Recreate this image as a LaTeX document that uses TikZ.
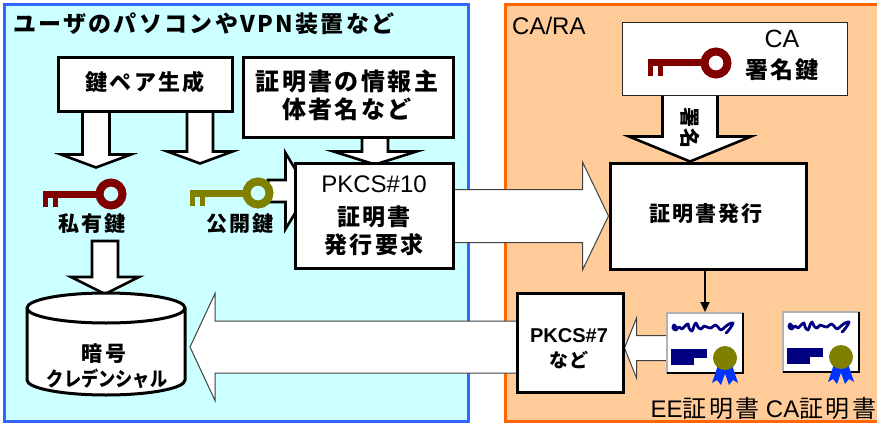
\documentclass[tikz,border=0pt]{standalone}
\usepackage{fontspec}
\setmainfont{Liberation Sans}
\newfontfamily\jp[LetterSpace=10]{Noto Sans CJK JP}
\newfontfamily\jpnarrow{Noto Sans CJK JP}
\usetikzlibrary{calc,arrows.meta}
\pgfdeclarelayer{bg}
\pgfdeclarelayer{behind}
\pgfsetlayers{bg,behind,main}

\definecolor{panelcyan}{HTML}{CCFFFF}
\definecolor{panelblue}{HTML}{3366FF}
\definecolor{panelpeach}{HTML}{FFCC99}
\definecolor{panelorange}{HTML}{FF6600}
\definecolor{keyred}{HTML}{800000}
\definecolor{keyolive}{HTML}{808000}
\definecolor{certnavy}{HTML}{000080}
\definecolor{ribbonblue}{HTML}{0033FF}

\newcommand\sz[1]{\fontsize{#1pt}{#1pt}\selectfont}

% block arrow: [style]{start}{tip}{shaft half width}{head half width}{head length}
\newcommand\blockarrow[6][]{%
  \coordinate (ba-s) at (#2);
  \coordinate (ba-t) at (#3);
  \coordinate (ba-b) at ($(ba-t)!#6!(ba-s)$);
  \draw[#1] ($(ba-s)!#4!90:(ba-t)$) -- ($(ba-b)!#4!90:(ba-t)$)
    -- ($(ba-b)!#5!90:(ba-t)$) -- (ba-t) -- ($(ba-b)!#5!-90:(ba-t)$)
    -- ($(ba-b)!#4!-90:(ba-t)$) -- ($(ba-s)!#4!-90:(ba-t)$) -- cycle;
}

\tikzset{
  keypic/.pic={
    \fill (0,-3.5) rectangle (60,3.5);
    \fill (0,0) rectangle (5,13);
    \fill (10,0) rectangle (15,13);
    \draw[line width=8pt] (68,0) circle[radius=11.5];
  },
  certpic/.pic={
    \draw[draw=black!30, line width=1.5pt, fill=white] (0,0) rectangle (76,60);
    \draw[black, line width=1.2pt] (76,0) -- (76,60) -- (0,60);
    \draw[certnavy, line width=2.8pt, line cap=round, line join=round]
      plot[smooth, tension=0.6] coordinates {(9,14) (7,12) (6,15) (9,17) (12,14)
        (15,16) (18,13) (21,11) (22,15) (25,18) (27,13) (29,10) (31,14) (34,16)
        (37,13) (40,14) (44,15) (48,12) (51,14) (54,17) (58,14) (62,11) (66,10)
        (64,14) (61,18) (59,20)};
    \fill[certnavy] (4,36) rectangle (40,45);
    \fill[certnavy] (4,45) rectangle (27,52);
    \fill[ribbonblue] (51,52) -- (45,70) -- (50,67) -- (54,72) -- (60,55) -- cycle;
    \fill[ribbonblue] (65,52) -- (71,70) -- (66,67) -- (62,72) -- (56,55) -- cycle;
    \fill[keyolive] (58,45) circle[radius=12];
  }
}

\begin{document}
\begin{tikzpicture}[x=1pt, y=-1pt,
  box/.style={draw=black, line width=3pt, fill=white, inner sep=0pt},
  thinbox/.style={draw=black!85, line width=1pt, fill=white, inner sep=0pt},
  heavyarrow/.style={draw=black, fill=white, line width=2.6pt, line join=miter},
  lightarrow/.style={draw=black!75, fill=white, line width=1pt, line join=miter},
  lbl/.style={inner sep=0pt, anchor=base},
  jpbold/.style={font={\jp\bfseries\sz{#1}}},
  jpreg/.style={font={\jp\sz{#1}}}
]
\useasboundingbox (0,0) rectangle (877,425);

% the two areas
\begin{pgfonlayer}{bg}
  \fill[white] (0,0) rectangle (877,425);
  \draw[panelblue, fill=panelcyan, line width=3pt] (4.5,4.5) rectangle (468,421);
  \draw[panelorange, fill=panelpeach, line width=3pt] (505.5,4.5) rectangle (885,421);
\end{pgfonlayer}

% area titles
\node[lbl, anchor=base west, jpbold=23] (usertitle) at (13,33) {ユーザのパソコンやVPN装置など};
\node[lbl, anchor=base west, font={\sz{24}}] (catitle) at (512,35) {CA/RA};

% boxes
\node[box, minimum width=174pt, minimum height=54pt] (kg) at (145,85) {};
\node[lbl, jpbold=22] (kgtext) at (145,91) {鍵ペア生成};

\node[box, minimum width=210pt, minimum height=79pt] (info) at (348,97.5) {};
\node[lbl, jpbold=24] (info1) at (347,91) {証明書の情報主};
\node[lbl, jpbold=24] (info2) at (347,118) {体者名など};

\node[box, minimum width=158pt, minimum height=105pt] (req) at (374,215.5) {};
\node[lbl, font={\sz{24}}] (req1) at (374,192) {PKCS\#10};
\node[lbl, jpbold=23] (req2) at (374,225) {証明書};
\node[lbl, jpbold=23] (req3) at (374,253) {発行要求};

\node[box, minimum width=196pt, minimum height=106pt] (issue) at (708,216) {};
\node[lbl, jpbold=21] (issuetext) at (706,221) {証明書発行};

\node[thinbox, minimum width=225pt, minimum height=73pt] (casign) at (734.5,59.5) {};
\node[lbl, font={\sz{25}}] (ca1) at (782,48) {CA};
\node[lbl, jpbold=23] (ca2) at (782,79) {署名鍵};

\node[box, minimum width=106pt, minimum height=99pt] (p7) at (570,342.5) {};
\node[lbl, font={\bfseries\sz{20}}] (p71) at (569,342) {PKCS\#7};
\node[lbl, jpbold=19] (p72) at (569,367) {など};

% keys
\pic[keyred] at (43,194) {keypic};
\coordinate (privring) at (111,194);
\node[lbl, jpbold=21] (privlbl) at (92,231) {私有鍵};
\pic[keyolive] at (190,193) {keypic};
\coordinate (pubring) at (258,193);
\node[lbl, jpbold=21] (publbl) at (240,231) {公開鍵};
\pic[keyred] at (648,63) {keypic};

% encrypted credential store
\coordinate (cred) at (106,344);
\draw[line width=3pt, fill=white] (27,308) -- (27,380)
  arc[start angle=180, end angle=0, x radius=79, y radius=15] -- (185,308)
  arc[start angle=0, end angle=-180, x radius=79, y radius=15] -- cycle;
\draw[line width=3pt] (185,308) arc[start angle=0, end angle=180, x radius=79, y radius=15];
\node[lbl, jpbold=21] (cred1) at (104,361) {暗号};
\node[lbl, font={\jpnarrow\bfseries\sz{20}}] (cred2) at (107,386) {\scalebox{0.86}[1]{クレデンシャル}};

% certificates
\pic at (667,313) {certpic};
\coordinate (ee) at (667,313);
\pic at (783,312) {certpic};
\coordinate (cacert) at (783,312);
\node[lbl, font={\sz{24}}] (eelbl) at (705,417) {EE{\jp 証明書}};
\node[lbl, font={\sz{24}}] (calbl) at (821,417) {CA{\jp 証明書}};

% block arrows
\begin{pgfonlayer}{behind}
  \blockarrow[heavyarrow]{$(kg.south)+(-49,-2)$}{$(kg.south)+(-49,54)$}{13.5pt}{35pt}{13pt}
  \blockarrow[heavyarrow]{$(kg.south)+(55,-2)$}{$(kg.south)+(55,50)$}{13pt}{32.5pt}{12pt}
  \blockarrow[heavyarrow]{$(info.south)+(27,-2)$}{$(req.north)+(1,3)$}{13pt}{41.5pt}{13pt}
  \blockarrow[heavyarrow]{$(pubring)+(10,-2)$}{$(req.west)+(15,-24.5)$}{11pt}{38pt}{23pt}
  \blockarrow[heavyarrow]{$(cred)+(-1,-103)$}{$(cred)+(-1,-50)$}{13pt}{34pt}{17pt}
  \blockarrow[heavyarrow]{$(casign.south)+(-44.5,-2)$}{$(issue.north)+(-18,0)$}{27.5pt}{61pt}{25pt}
  \blockarrow[lightarrow]{$(req.east)+(-3,0.5)$}{$(issue.west)$}{26.5pt}{54pt}{26pt}
  \blockarrow[lightarrow]{$(p7.west)+(5,4.5)$}{$(cred)+(84,3)$}{26pt}{53.5pt}{25pt}
  \blockarrow[lightarrow]{$(ee)+(3,35)$}{$(p7.east)+(0,5.5)$}{12.5pt}{30pt}{12pt}
\end{pgfonlayer}

\node[lbl, anchor=center, rotate=-90, font={\jpnarrow\bfseries\sz{20}}] (sigtext) at (690,128) {署名};

% issuing the end-entity certificate
\coordinate (eetop) at ($(ee)+(38,-1)$);
\draw[line width=2pt, -{Triangle[width=9pt,length=10pt]}] (issue.south -| eetop) -- (eetop);

\end{tikzpicture}
\end{document}
